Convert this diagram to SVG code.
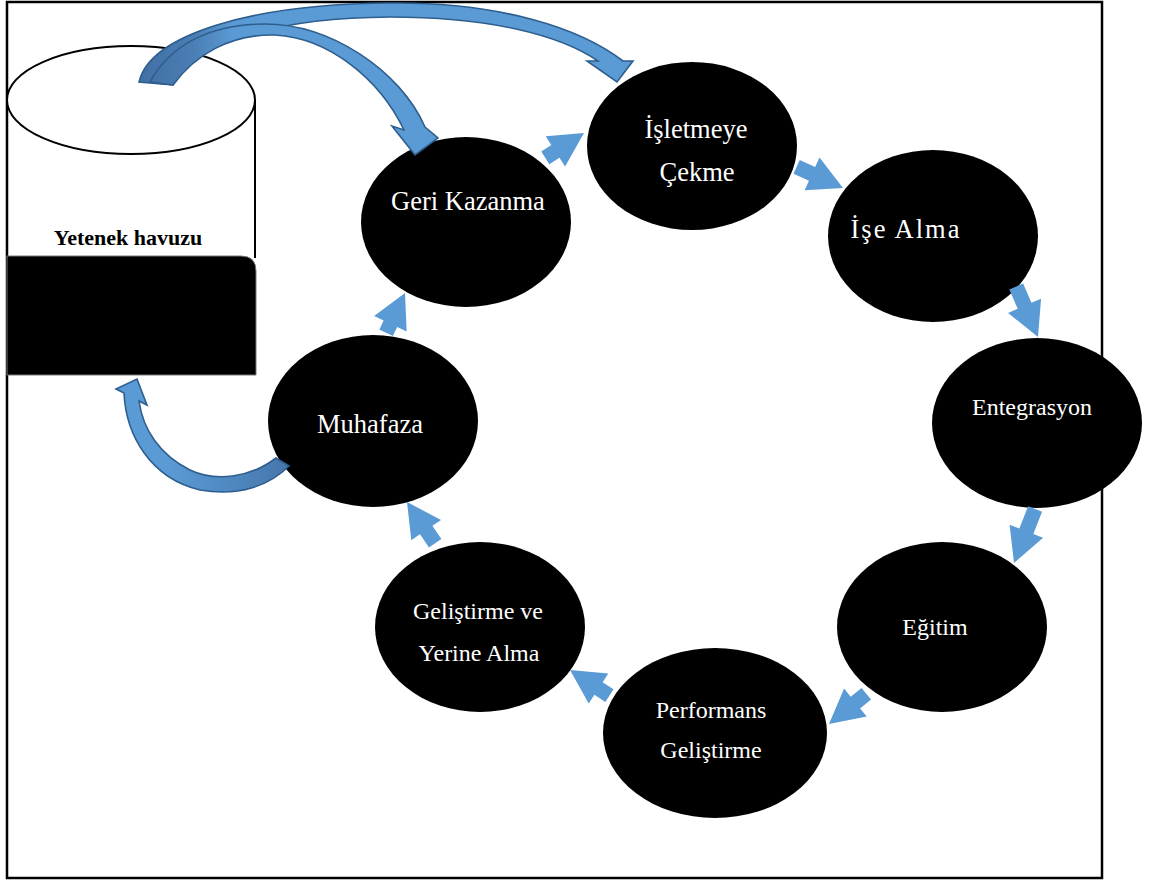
<svg xmlns="http://www.w3.org/2000/svg" width="1150" height="881" viewBox="0 0 1150 881">
  <style>
    .node { fill: #000; }
    .lbl { font-family: "Liberation Serif", "Times New Roman", serif; font-size: 24px; fill: #fff; text-anchor: middle; }
    .big { font-size: 26.5px; }
    .pool { font-family: "Liberation Serif", "Times New Roman", serif; font-size: 22px; font-weight: bold; fill: #000; text-anchor: middle; }
    .flow { fill: #5B9BD5; }
    .bend { stroke: #2E5E8E; stroke-width: 1.6; stroke-linejoin: miter; }
  </style>
  <defs>
    <!-- darker underside near the foot of the curved arrows -->
    <linearGradient id="footTop" gradientUnits="userSpaceOnUse" x1="140" y1="0" x2="235" y2="0">
      <stop offset="0" stop-color="#4170A4"/>
      <stop offset="0.55" stop-color="#4A7DB4"/>
      <stop offset="1" stop-color="#5B9BD5"/>
    </linearGradient>
    <linearGradient id="footLow" gradientUnits="userSpaceOnUse" x1="165" y1="0" x2="290" y2="0">
      <stop offset="0" stop-color="#5B9BD5"/>
      <stop offset="0.5" stop-color="#5089C2"/>
      <stop offset="1" stop-color="#4676AA"/>
    </linearGradient>
  </defs>

  <rect x="0" y="0" width="1150" height="881" fill="#fff"/>
  <!-- outer frame -->
  <rect x="7" y="2" width="1095" height="876" fill="none" stroke="#000" stroke-width="2.5"/>

  <!-- talent pool cylinder -->
  <g id="talent-pool">
    <line x1="255" y1="100" x2="255" y2="258" stroke="#000" stroke-width="2"/>
    <ellipse cx="131" cy="100" rx="124" ry="54" fill="#fff" stroke="#000" stroke-width="2"/>
    <path d="M7,256 H241 Q256,256 256,271 V375 H7 Z" fill="#000" stroke="#777" stroke-width="1"/>
    <text class="pool" x="128" y="245">Yetenek havuzu</text>
  </g>

  <!-- cycle nodes -->
  <g id="node-isletmeye-cekme">
    <ellipse class="node" cx="692" cy="146" rx="105" ry="84"/>
    <text class="lbl big" x="696" y="138">İşletmeye</text>
    <text class="lbl big" x="697" y="181">Çekme</text>
  </g>
  <g id="node-ise-alma">
    <ellipse class="node" cx="933" cy="236" rx="105" ry="86"/>
    <text class="lbl big" x="906" y="238" style="letter-spacing:2px">İşe Alma</text>
  </g>
  <g id="node-entegrasyon">
    <ellipse class="node" cx="1037" cy="423" rx="105" ry="85"/>
    <text class="lbl" x="1032" y="415">Entegrasyon</text>
  </g>
  <g id="node-egitim">
    <ellipse class="node" cx="942" cy="627" rx="105" ry="85"/>
    <text class="lbl" x="935" y="635">Eğitim</text>
  </g>
  <g id="node-performans">
    <ellipse class="node" cx="715" cy="733" rx="112" ry="85"/>
    <text class="lbl" x="711" y="718">Performans</text>
    <text class="lbl" x="711" y="758">Geliştirme</text>
  </g>
  <g id="node-gelistirme-yerine-alma">
    <ellipse class="node" cx="480" cy="627" rx="105" ry="85"/>
    <text class="lbl" x="478" y="619">Geliştirme ve</text>
    <text class="lbl" x="479" y="661">Yerine Alma</text>
  </g>
  <g id="node-muhafaza">
    <ellipse class="node" cx="373" cy="421" rx="105" ry="86"/>
    <text class="lbl big" x="370" y="433">Muhafaza</text>
  </g>
  <g id="node-geri-kazanma">
    <ellipse class="node" cx="466" cy="222" rx="105" ry="85"/>
    <text class="lbl big" x="468" y="210">Geri Kazanma</text>
  </g>

  <!-- connectors -->
  <g id="connectors">
    <!-- straight block arrows around the cycle (tip at local origin) -->
    <polygon class="flow" transform="translate(584,133) rotate(-32.7)" points="-46,-7.5 -34,-7.5 -34,-18 0,0 -34,18 -34,7.5 -46,7.5"/>
    <polygon class="flow" transform="translate(843,188) rotate(24.5)" points="-51,-7.5 -34,-7.5 -34,-18 0,0 -34,18 -34,7.5 -51,7.5"/>
    <polygon class="flow" transform="translate(1038,337) rotate(66.7)" points="-55,-7.5 -34,-7.5 -34,-18 0,0 -34,18 -34,7.5 -55,7.5"/>
    <polygon class="flow" transform="translate(1014,563) rotate(111.3)" points="-58,-7.5 -34,-7.5 -34,-18 0,0 -34,18 -34,7.5 -58,7.5"/>
    <polygon class="flow" transform="translate(829,724) rotate(141)" points="-48,-7.5 -34,-7.5 -34,-18 0,0 -34,18 -34,7.5 -48,7.5"/>
    <polygon class="flow" transform="translate(570,670) rotate(213)" points="-47,-7.5 -34,-7.5 -34,-18 0,0 -34,18 -34,7.5 -47,7.5"/>
    <polygon class="flow" transform="translate(407,502) rotate(235.7)" points="-50,-7.5 -34,-7.5 -34,-18 0,0 -34,18 -34,7.5 -50,7.5"/>
    <polygon class="flow" transform="translate(405,293) rotate(-64.6)" points="-44,-7.5 -34,-7.5 -34,-18 0,0 -34,18 -34,7.5 -44,7.5"/>

    <!-- curved arrow: pool to İşletmeye Çekme -->
    <path class="bend" fill="url(#footTop)" d="M139,82 C150,35 250,4 390,3 C500,2 580,28 623,61 L633,61 L617,82 L587,61 L598,61 C560,35 490,17 390,17 C270,18 190,45 173,85 Z"/>
    <!-- curved arrow: pool to Geri Kazanma -->
    <path class="bend" fill="url(#footTop)" d="M150,82 C170,45 210,24 265,24 C330,24 400,70 425,127 L438,138 L415,155 L392,126 L404,130 C380,80 330,38 275,35 C230,34 195,55 173,85 Z"/>

    <!-- curved arrow: Muhafaza back to pool -->
    <path class="bend" fill="url(#footLow)" d="M276,458 C250,478 215,482 190,470 C160,455 143,430 139,401 L147,405 L137,379 L116,389 L124,393 C126,435 150,478 200,490 C240,497 270,485 289,466 Z"/>
  </g>
</svg>
